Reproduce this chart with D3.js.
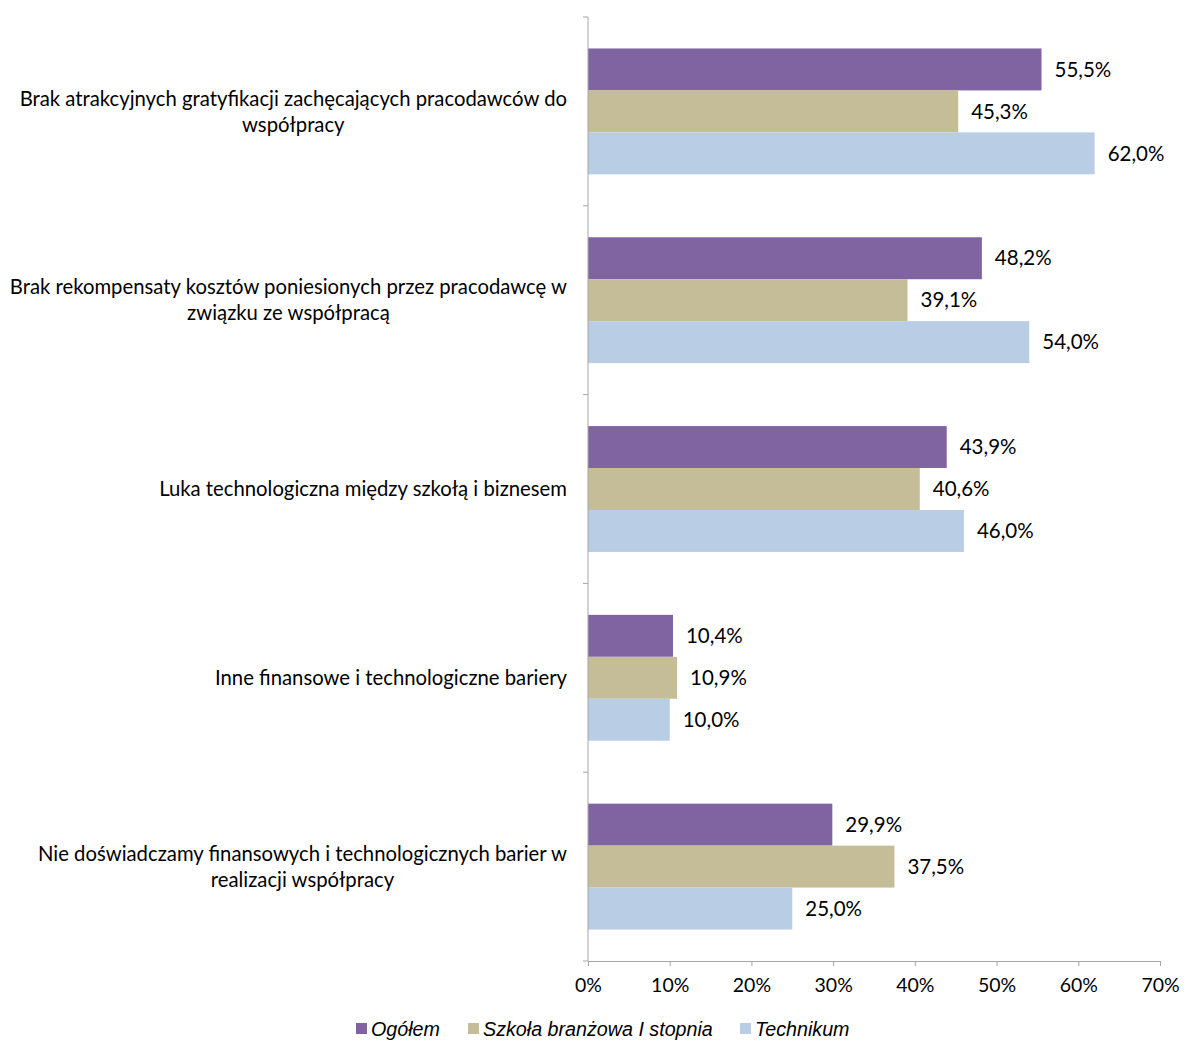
<!DOCTYPE html>
<html><head><meta charset="utf-8">
<script src="https://cdn.jsdelivr.net/npm/d3@7"></script>
<style>body{margin:0;background:#fff}</style>
</head><body>
<svg id="c" width="1184" height="1041"></svg>
<script>
const categories = [
  ["Brak atrakcyjnych gratyfikacji zachęcających pracodawców do","współpracy"],
  ["Brak rekompensaty kosztów poniesionych przez pracodawcę w","związku ze współpracą"],
  ["Luka technologiczna między szkołą i biznesem"],
  ["Inne finansowe i technologiczne bariery"],
  ["Nie doświadczamy finansowych i technologicznych barier w","realizacji współpracy"]
];
const seriesNames = ["Ogółem","Szkoła branżowa I stopnia","Technikum"];
const ogolem = [55.5, 48.2, 43.9, 10.4, 29.9];
const szkola = [45.3, 39.1, 40.6, 10.9, 37.5];
const technikum = [62.0, 54.0, 46.0, 10.0, 25.0];
const xTicks = [0,10,20,30,40,50,60,70];
const colors = ["#8064A2","#C4BD97","#B9CDE5"];

const series = [ogolem, szkola, technikum];
const svg = d3.select("#c");
const x0 = 588, x1 = 1160, yTop = 17, yBot = 961;
const x = d3.scaleLinear().domain([0,70]).range([x0,x1]);
const y = d3.scaleBand().domain(d3.range(categories.length)).range([yTop,yBot]).paddingInner(1/3).paddingOuter(1/6);
const ys = d3.scaleBand().domain(d3.range(3)).range([0,y.bandwidth()]);
const font = "Lato, 'Open Sans', sans-serif";

// bars
series.forEach((vals,si)=>{
  const g = svg.append("g");
  g.selectAll("rect").data(vals).join("rect")
    .attr("x", x(0)).attr("y",(d,i)=>y(i)+ys(si))
    .attr("width", d=>x(d)-x(0)).attr("height", ys.bandwidth())
    .attr("fill", colors[si]);
  g.selectAll("text").data(vals).join("text")
    .attr("x", d=>x(d)+13).attr("y",(d,i)=>y(i)+ys(si)+ys.bandwidth()/2)
    .attr("dy","0.35em").attr("font-family",font).attr("font-size",20.5).attr("fill","#000")
    .text(d=>d.toFixed(1).replace(".",",")+"%");
});

// axes
const axisColor = "#A6A6A6";
const yAxisTicks = d3.range(categories.length+1).map(i=> yTop + i*(yBot-yTop)/categories.length);
svg.append("line").attr("x1",x0).attr("x2",x0).attr("y1",yTop).attr("y2",yBot).attr("stroke",axisColor);
svg.selectAll(".yt").data(yAxisTicks).join("line").attr("x1",x0-5).attr("x2",x0).attr("y1",d=>d).attr("y2",d=>d).attr("stroke",axisColor);
const xa = svg.append("g").attr("transform",`translate(0,${yBot})`)
  .call(d3.axisBottom(x).tickValues(xTicks).tickSize(5).tickSizeOuter(0).tickPadding(12).tickFormat(d=>d+"%"));
xa.select(".domain").attr("stroke",axisColor);
xa.selectAll(".tick line").attr("stroke",axisColor);
xa.selectAll("text").attr("font-family",font).attr("font-size",19.5).attr("fill","#000");

// category labels
categories.forEach((lines,i)=>{
  const cy = y(i)+y.bandwidth()/2;
  const g = svg.append("g");
  const lh = 26;
  const ts = lines.map((l,j)=> g.append("text").attr("y", cy + (j-(lines.length-1)/2)*lh).attr("dy","0.35em")
     .attr("font-family",font).attr("font-size",20.3).attr("fill","#000").attr("text-anchor","middle").text(l));
  const w = d3.max(ts.map(t=>t.node().getComputedTextLength()));
  ts.forEach(t=>t.attr("x", 567 - w/2));
});

// legend
const leg = svg.append("g");
const legX = [356, 468, 740];
seriesNames.forEach((n,i)=>{
  leg.append("rect").attr("x",legX[i]).attr("y",1023).attr("width",11).attr("height",11).attr("fill",colors[i]);
  leg.append("text").attr("x",legX[i]+15).attr("y",1036).attr("font-family","'Liberation Sans', Arial, sans-serif")
    .attr("font-style","italic").attr("font-size",19.7).attr("fill","#000").text(n);
});
</script>
</body></html>
